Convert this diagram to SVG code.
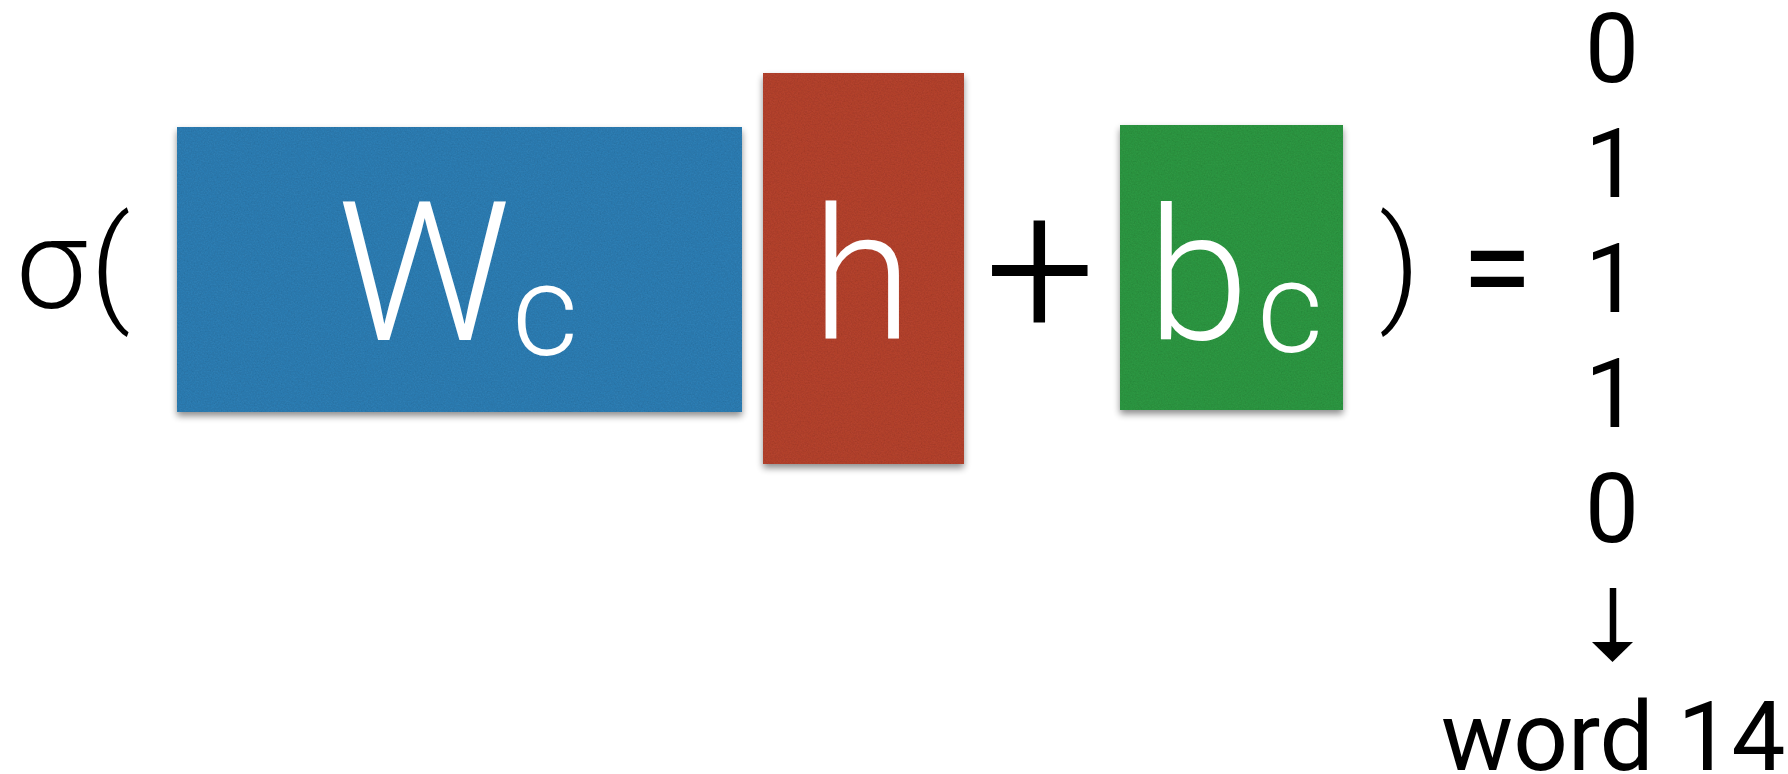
<svg xmlns="http://www.w3.org/2000/svg" width="1788" height="774" viewBox="0 0 1788 774">
  <style>
    .sym { font-family: Roboto, "Liberation Sans", Arial, sans-serif; font-weight: 400; fill: #000; }
    .thin { font-family: Roboto, "Liberation Sans", Arial, sans-serif; font-weight: 300; fill: #000; }
    .lbl { font-family: Roboto, "Liberation Sans", Arial, sans-serif; font-weight: 300; fill: #fff; }
    .shadow { fill: #000; opacity: 0.45; filter: url(#soft); }
    .card { filter: url(#grain); }
    .blue { fill: #2f7db2; }
    .red { fill: #b3432f; }
    .green { fill: #2f9643; }
  </style>
  <defs>
    <filter id="soft" x="-10%" y="-10%" width="120%" height="130%">
      <feGaussianBlur stdDeviation="3.5"/>
    </filter>
    <!-- faint paper grain on the coloured cards -->
    <filter id="grain" x="0" y="0" width="100%" height="100%">
      <feTurbulence type="fractalNoise" baseFrequency="0.7" numOctaves="3" seed="7" result="noise"/>
      <feColorMatrix in="noise" type="matrix" values="0 0 0 0 0  0 0 0 0 0  0 0 0 0 0  0.35 0 0 0 -0.12" result="dark"/>
      <feComposite in="dark" in2="SourceGraphic" operator="in" result="speck"/>
      <feMerge>
        <feMergeNode in="SourceGraphic"/>
        <feMergeNode in="speck"/>
      </feMerge>
    </filter>
  </defs>

  <rect width="1788" height="774" fill="#fff"/>

  <!-- sigma and opening bracket -->
  <g id="sigma-open">
    <text class="thin" x="16 90" y="308" font-size="127">σ(</text>
  </g>

  <!-- weight matrix W_c -->
  <g id="node-wc">
    <rect class="shadow" x="177" y="131" width="565" height="285"/>
    <rect class="card blue" x="177" y="127" width="565" height="285"/>
    <text class="lbl" x="424" y="340" font-size="194" text-anchor="middle">W</text>
    <text class="lbl" x="545" y="355" font-size="128" text-anchor="middle">c</text>
  </g>

  <!-- hidden state h -->
  <g id="node-h">
    <rect class="shadow" x="763" y="77" width="201" height="391"/>
    <rect class="card red" x="763" y="73" width="201" height="391"/>
    <text class="lbl" x="862" y="339" font-size="184" text-anchor="middle">h</text>
  </g>

  <text class="thin" x="1040" y="336" font-size="196" text-anchor="middle">+</text>

  <!-- bias b_c -->
  <g id="node-bc">
    <rect class="shadow" x="1120" y="129" width="223" height="285"/>
    <rect class="card green" x="1120" y="125" width="223" height="285"/>
    <text class="lbl" x="1198" y="339" font-size="184" text-anchor="middle">b</text>
    <text class="lbl" x="1290" y="352" font-size="128" text-anchor="middle">c</text>
  </g>

  <g id="close-eq">
    <text class="thin" x="1379" y="308" font-size="127">)</text>
    <text class="sym" x="1497" y="312" font-size="130" text-anchor="middle">=</text>
  </g>

  <!-- binary code column -->
  <g id="node-code" class="sym" font-size="96" text-anchor="middle">
    <text x="1612" y="82">0</text>
    <text x="1612" y="197">1</text>
    <text x="1612" y="312">1</text>
    <text x="1612" y="427">1</text>
    <text x="1612" y="542">0</text>
  </g>

  <g id="connectors">
    <line x1="1613" y1="588" x2="1613" y2="646" stroke="#000" stroke-width="6.5"/>
    <polygon points="1592,642 1633,642 1612.5,662" fill="#000"/>
  </g>

  <g id="node-word">
    <text class="sym" x="1441" y="770" font-size="96">word 14</text>
  </g>
</svg>
